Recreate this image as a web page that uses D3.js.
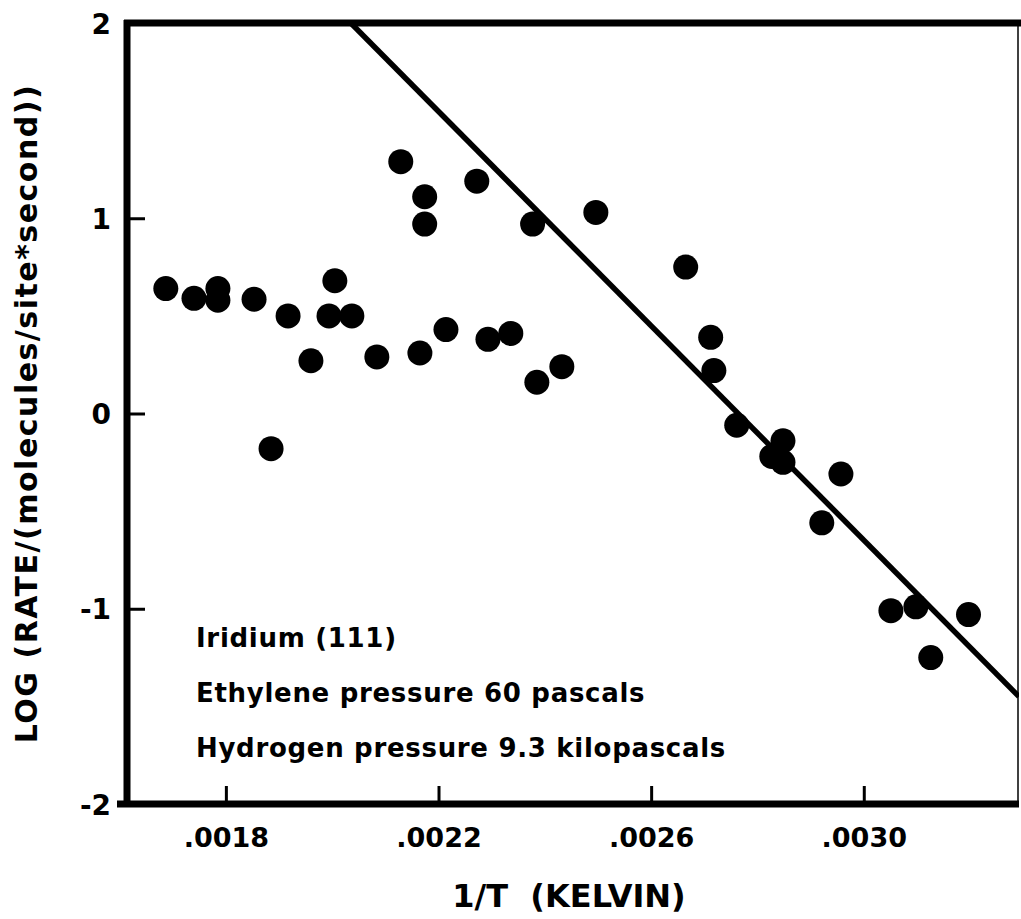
<!DOCTYPE html>
<html>
<head>
<meta charset="utf-8">
<script src="https://cdn.jsdelivr.net/npm/d3@7"></script>
<style>
  html, body { margin: 0; padding: 0; background: #fff; }
  svg { display: block; }
  text { font-family: "DejaVu Sans", sans-serif; font-weight: bold; fill: #000; }
</style>
</head>
<body>
<svg id="chart" width="1021" height="919"></svg>
<script>
// Reaction rate of ethylene hydrogenation on Ir(111) vs inverse temperature
const invT = [
  0.001687, 0.001740, 0.001785, 0.001785, 0.001853, 0.001917, 0.001960,
  0.001885, 0.001994, 0.002005, 0.002037, 0.002084, 0.002129, 0.002165,
  0.002174, 0.002174, 0.002214, 0.002272, 0.002293, 0.002336, 0.002377,
  0.002385, 0.002432, 0.002496, 0.002665, 0.002712, 0.002718, 0.002761,
  0.002827, 0.002848, 0.002848, 0.002921, 0.002957, 0.003051, 0.003098,
  0.003126, 0.003197
];
const logRate = [
  0.64, 0.59, 0.64, 0.58, 0.585, 0.50, 0.27,
  -0.18, 0.50, 0.68, 0.50, 0.29, 1.29, 0.31,
  1.11, 0.97, 0.43, 1.19, 0.38, 0.41, 0.97,
  0.16, 0.24, 1.03, 0.75, 0.39, 0.22, -0.06,
  -0.22, -0.14, -0.25, -0.56, -0.31, -1.01, -0.99,
  -1.25, -1.03
];

// Arrhenius fit line end points
const fitX = [0.002035, 0.003292];
const fitY = [2.0, -1.45];

const xTicks = [0.0018, 0.0022, 0.0026, 0.0030];
const xTickLabels = [".0018", ".0022", ".0026", ".0030"];
const yTicks = [2, 1, 0, -1, -2];
const yTickLabels = ["2", "1", "0", "-1", "-2"];

const notes = [
  "Iridium (111)",
  "Ethylene pressure 60 pascals",
  "Hydrogen pressure 9.3 kilopascals"
];
const xTitle = "1/T  (KELVIN)";
const yTitle = "LOG (RATE/(molecules/site*second))";

const W = 1021, H = 919;
const margin = { left: 127, top: 23, right: 2, bottom: 115 };
const svg = d3.select("#chart");

const x = d3.scaleLinear()
  .domain([0.001614, 0.003292])
  .range([margin.left, W - margin.right]);
const y = d3.scaleLinear()
  .domain([-2, 2])
  .range([H - margin.bottom, margin.top]);

const plotLeft = x.range()[0], plotRight = x.range()[1];
const plotTop = y.range()[1], plotBottom = y.range()[0];

svg.append("defs").append("clipPath").attr("id", "plot-clip")
  .append("rect")
  .attr("x", plotLeft).attr("y", plotTop)
  .attr("width", plotRight - plotLeft).attr("height", plotBottom - plotTop);

// fitted line
svg.append("line")
  .attr("clip-path", "url(#plot-clip)")
  .attr("x1", x(fitX[0])).attr("y1", y(fitY[0]))
  .attr("x2", x(fitX[1])).attr("y2", y(fitY[1]))
  .attr("stroke", "#000").attr("stroke-width", 5.5);

// measurements
svg.append("g").selectAll("circle")
  .data(invT.map((v, i) => ({ x: v, y: logRate[i] })))
  .join("circle")
  .attr("cx", d => x(d.x))
  .attr("cy", d => y(d.y))
  .attr("r", 12.5)
  .attr("fill", "#000");

// frame: top and right edges
svg.append("line")
  .attr("x1", plotLeft - 3).attr("x2", W)
  .attr("y1", plotTop).attr("y2", plotTop)
  .attr("stroke", "#000").attr("stroke-width", 7);
svg.append("line")
  .attr("x1", plotRight - 1).attr("x2", plotRight - 1)
  .attr("y1", plotTop).attr("y2", plotBottom)
  .attr("stroke", "#000").attr("stroke-width", 1.5);

// bottom axis
const gx = svg.append("g")
  .attr("transform", `translate(0,${plotBottom})`)
  .call(d3.axisBottom(x)
    .tickValues(xTicks)
    .tickFormat((d, i) => xTickLabels[i])
    .tickSizeInner(-18)
    .tickSizeOuter(0));
gx.select(".domain")
  .attr("d", `M${plotLeft - 10},0H${plotRight}`)
  .attr("stroke", "#000").attr("stroke-width", 7);
gx.selectAll(".tick line").attr("stroke", "#000").attr("stroke-width", 3);
gx.selectAll(".tick text")
  .attr("y", 43).attr("dy", null)
  .style("font-size", "27px")
  .attr("fill", "#000");

// left axis
const gy = svg.append("g")
  .attr("transform", `translate(${plotLeft},0)`)
  .call(d3.axisLeft(y)
    .tickValues(yTicks)
    .tickFormat((d, i) => yTickLabels[i])
    .tickSizeInner(-18)
    .tickSizeOuter(0));
gy.select(".domain")
  .attr("d", `M0,${plotTop - 3}V${plotBottom + 3}`)
  .attr("stroke", "#000").attr("stroke-width", 7);
gy.selectAll(".tick line").attr("stroke", "#000").attr("stroke-width", 3);
gy.selectAll(".tick text")
  .attr("x", -16).attr("dy", "0.36em")
  .style("font-size", "28px")
  .attr("fill", "#000");

// experimental conditions
svg.append("g").selectAll("text")
  .data(notes)
  .join("text")
  .attr("x", 196)
  .attr("y", (d, i) => 647 + i * 55)
  .style("font-size", "26px")
  .style("letter-spacing", "0.7px")
  .text(d => d);

// axis titles
svg.append("text")
  .attr("x", (plotLeft + plotRight) / 2 - 4)
  .attr("y", 907)
  .attr("text-anchor", "middle")
  .style("font-size", "32px")
  .style("white-space", "pre")
  .text(xTitle);

svg.append("text")
  .attr("transform", `translate(37,${(plotTop + plotBottom) / 2}) rotate(-90)`)
  .attr("text-anchor", "middle")
  .style("font-size", "30px")
  .style("letter-spacing", "1.5px")
  .text(yTitle);
</script>
</body>
</html>
